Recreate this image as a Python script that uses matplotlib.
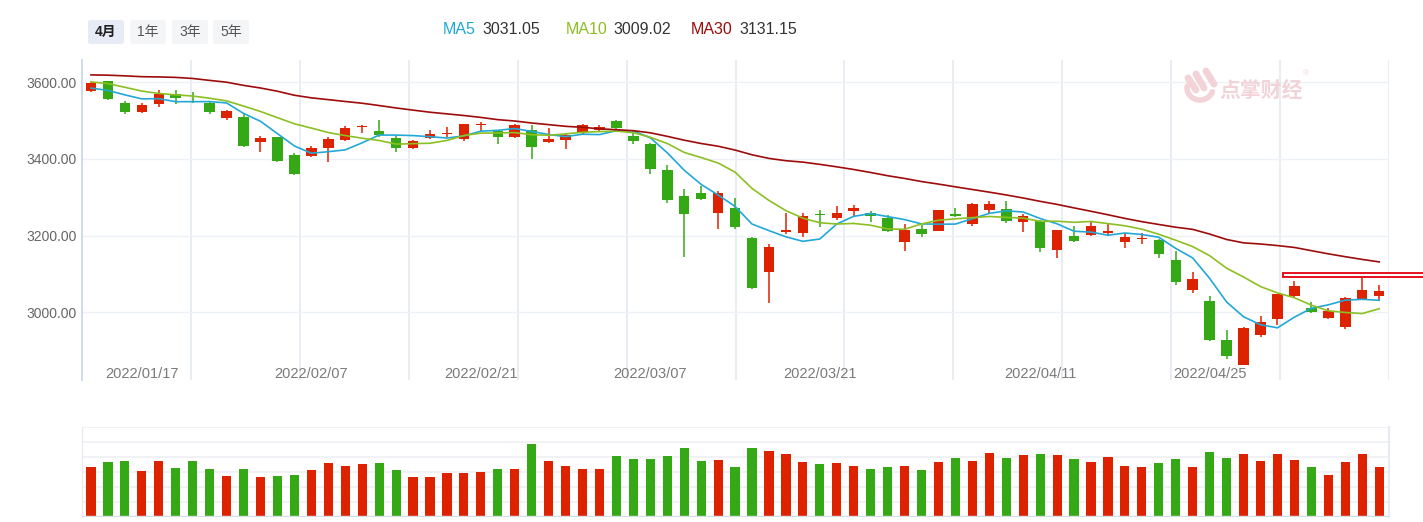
import numpy as np
import pandas as pd
import matplotlib
matplotlib.use('Agg')
import matplotlib.pyplot as plt
from matplotlib.patches import FancyBboxPatch, Rectangle

plt.rcParams['font.family'] = ['Liberation Sans', 'Noto Sans CJK SC', 'DejaVu Sans']

# trading days shown (2022)
dates = ['01/12', '01/13', '01/14', '01/17', '01/18', '01/19', '01/20', '01/21', '01/24', '01/25',
         '01/26', '01/27', '01/28', '02/07', '02/08', '02/09', '02/10', '02/11', '02/14', '02/15',
         '02/16', '02/17', '02/18', '02/21', '02/22', '02/23', '02/24', '02/25', '02/28', '03/01',
         '03/02', '03/03', '03/04', '03/07', '03/08', '03/09', '03/10', '03/11', '03/14', '03/15',
         '03/16', '03/17', '03/18', '03/21', '03/22', '03/23', '03/24', '03/25', '03/28', '03/29',
         '03/30', '03/31', '04/01', '04/06', '04/07', '04/08', '04/11', '04/12', '04/13', '04/14',
         '04/15', '04/18', '04/19', '04/20', '04/21', '04/22', '04/25', '04/26', '04/27', '04/28',
         '04/29', '05/05', '05/06', '05/09', '05/10', '05/11', '05/12']

opens = [3578, 3602, 3545, 3522, 3543, 3568, 3557, 3547, 3506, 3510,
         3443, 3457, 3410, 3408, 3428, 3448, 3482, 3474, 3454, 3428,
         3454, 3466, 3451, 3489, 3474, 3457, 3476, 3443, 3448, 3469,
         3476, 3499, 3460, 3439, 3371, 3304, 3312, 3258, 3271, 3193,
         3106, 3209, 3206, 3256, 3247, 3263, 3258, 3245, 3182, 3217,
         3213, 3257, 3230, 3267, 3269, 3236, 3238, 3161, 3199, 3202,
         3207, 3182, 3190, 3189, 3137, 3057, 3030, 2928, 2863, 2941,
         2983, 3041, 3010, 2984, 2961, 3034, 3041]
highs = [3601, 3603, 3550, 3545, 3579, 3579, 3575, 3549, 3528, 3516,
         3460, 3458, 3416, 3434, 3456, 3485, 3488, 3502, 3460, 3450,
         3476, 3482, 3492, 3495, 3476, 3492, 3489, 3480, 3465, 3491,
         3489, 3502, 3476, 3442, 3383, 3321, 3328, 3317, 3299, 3196,
         3177, 3260, 3260, 3267, 3278, 3280, 3265, 3254, 3230, 3228,
         3267, 3271, 3286, 3289, 3289, 3256, 3241, 3215, 3225, 3239,
         3230, 3203, 3207, 3192, 3160, 3104, 3041, 2954, 2960, 2990,
         3048, 3081, 3027, 3012, 3040, 3099, 3070]
lows = [3575, 3553, 3516, 3519, 3535, 3543, 3545, 3517, 3502, 3430,
        3419, 3393, 3357, 3406, 3393, 3446, 3468, 3458, 3417, 3426,
        3453, 3456, 3447, 3474, 3439, 3455, 3399, 3441, 3426, 3466,
        3470, 3478, 3439, 3360, 3286, 3145, 3292, 3217, 3218, 3061,
        3023, 3203, 3196, 3223, 3241, 3252, 3236, 3208, 3160, 3196,
        3212, 3248, 3226, 3257, 3232, 3208, 3156, 3141, 3183, 3200,
        3200, 3167, 3177, 3142, 3072, 3050, 2925, 2877, 2862, 2935,
        2967, 3039, 2997, 2982, 2955, 3032, 3032]
closes = [3597.43, 3555.26, 3521.26, 3541.67, 3569.91, 3558.18, 3555.06, 3522.57, 3524.11, 3433.06,
          3455.67, 3394.25, 3361.44, 3429.58, 3452.63, 3479.95, 3485.91, 3462.95, 3428.88, 3446.09,
          3465.83, 3468.04, 3490.76, 3490.61, 3457.15, 3489.15, 3429.96, 3451.41, 3462.31, 3488.83,
          3484.19, 3481.11, 3447.65, 3372.86, 3293.53, 3256.39, 3296.09, 3309.75, 3223.53, 3063.97,
          3170.71, 3215.04, 3251.07, 3253.69, 3259.86, 3271.03, 3250.26, 3212.24, 3214.50, 3203.94,
          3266.60, 3252.20, 3282.72, 3283.43, 3236.70, 3251.85, 3167.13, 3213.33, 3186.82, 3225.64,
          3211.24, 3195.52, 3194.03, 3151.05, 3079.81, 3086.92, 2928.51, 2886.43, 2958.28, 2975.48,
          3047.06, 3067.76, 3001.56, 3004.14, 3035.84, 3058.70, 3054.99]
volumes = [333, 364, 371, 304, 371, 324, 371, 318, 274, 318,
           267, 274, 282, 311, 357, 342, 351, 357, 311, 267,
           267, 291, 291, 298, 318, 318, 483, 371, 342, 320,
           320, 408, 386, 386, 408, 461, 371, 379, 333, 461,
           439, 417, 364, 351, 357, 342, 320, 333, 342, 311,
           364, 393, 371, 424, 393, 410, 417, 410, 386, 364,
           401, 342, 333, 357, 386, 333, 430, 393, 417, 371,
           417, 379, 333, 282, 364, 417, 333]
# closes before the window, needed for the moving averages (2021/12/01 - 2022/01/11)
prior_closes = [3576.89, 3573.84, 3607.43, 3589.31, 3595.09, 3637.57, 3673.04, 3666.35, 3681.08, 3661.53,
                3647.63, 3675.02, 3632.36, 3593.60, 3625.13, 3622.62, 3643.34, 3618.05, 3615.97, 3630.11,
                3597.00, 3619.19, 3639.78, 3632.33, 3595.18, 3586.08, 3579.54, 3593.52, 3567.44]
tick_dates = ['01/17', '02/07', '02/21', '03/07', '03/21', '04/11', '04/25']
price_ticks = [3000, 3200, 3400, 3600]
periods = ['4月', '1年', '3年', '5年']

RED = '#dd2200'
GREEN = '#34a815'
MA_COLORS = {'MA5': '#22a8d6', 'MA10': '#8cbf22', 'MA30': '#9e0b0b'}

W, H = 1423, 522
def fx(x):
    return x / W
def fy(y):
    return 1 - y / H

s = pd.Series(prior_closes + closes)
n = len(closes)
mas = {'MA5': s.rolling(5).mean().iloc[-n:].values,
       'MA10': s.rolling(10).mean().iloc[-n:].values,
       'MA30': s.rolling(30).mean().iloc[-n:].values}

x = np.arange(n)
colors = [RED if c >= o else GREEN for o, c in zip(opens, closes)]

fig = plt.figure(figsize=(W / 100, H / 100), dpi=100)
ax = fig.add_axes([fx(82), fy(380), fx(1389) - fx(82), fy(60) - fy(380)])
vax = fig.add_axes([fx(82), fy(517.3), fx(1389) - fx(82), fy(426.7) - fy(517.3)])

xlim = (-0.53, 76.58)
ax.set_xlim(*xlim)
ax.set_ylim(2823, 3658)
for xv in np.linspace(xlim[0], xlim[1], 13)[1:]:
    ax.axvline(xv, color='#e6ebf2', lw=1.3, zorder=0)
for yv in price_ticks:
    ax.axhline(yv, color='#edf0f5', lw=1, zorder=0)

# candles
ax.vlines(x, lows, highs, colors=colors, lw=1.1, zorder=2)
bodies = [max(abs(c - o), 2.2) for o, c in zip(opens, closes)]
bottoms = [min(o, c) for o, c in zip(opens, closes)]
ax.bar(x, bodies, bottom=bottoms, width=0.62, color=colors, zorder=3, lw=0)

for name, vals in mas.items():
    ax.plot(x, vals, color=MA_COLORS[name], lw=1.2, zorder=4)

# highlight marker at the right edge
ax.add_patch(Rectangle((70.3, 3090.5), 8.4, 10.5, facecolor='white', edgecolor='#e3121c',
                       lw=1.4, clip_on=False, zorder=6))

ax.set_yticks(price_ticks)
ax.set_yticklabels([f'{v:.2f}' for v in price_ticks])
ax.set_xticks([dates.index(d) for d in tick_dates])
ax.set_xticklabels(['2022/' + d for d in tick_dates])
ax.tick_params(axis='y', length=0, pad=4, labelsize=10, labelcolor='#666666')
ax.tick_params(axis='x', length=0, pad=-9, labelsize=10.5, labelcolor='#7a7a7a')
for sp in ['top', 'right', 'bottom']:
    ax.spines[sp].set_visible(False)
ax.spines['left'].set_color('#c6d4ec')
ax.spines['left'].set_linewidth(1.2)

# volume panel
vax.set_xlim(*xlim)
vax.set_ylim(0, 600)
for yv in range(100, 601, 100):
    vax.axhline(yv, color='#edf0f5', lw=1.2, zorder=0)
vax.bar(x, volumes, width=0.54, color=colors, zorder=2, lw=0)
vax.axhline(0, color='#d5dde9', lw=2.5, zorder=3)
vax.set_xticks([])
vax.set_yticks([])
for sp in ['top', 'bottom']:
    vax.spines[sp].set_visible(False)
vax.spines['left'].set_color('#e6ebf2')
vax.spines['right'].set_color('#e6ebf2')
vax.spines['right'].set_linewidth(1.5)

# period buttons
btn_left = [88, 130, 172, 213]
for i, (lbl, bx) in enumerate(zip(periods, btn_left)):
    active = i == 0
    fig.add_artist(FancyBboxPatch((fx(bx), fy(44)), fx(36), fy(20) - fy(44),
                                  boxstyle='round,pad=0,rounding_size=0.003',
                                  transform=fig.transFigure, facecolor='#e6ebf5' if active else '#f4f5f7',
                                  edgecolor='none'))
    fig.text(fx(bx + 18), fy(32), lbl, ha='center', va='center', fontsize=10,
             color='#222222' if active else '#555555', fontweight='bold' if active else 'normal')

# legend line
legend_pos = {'MA5': (443, 482), 'MA10': (566, 613), 'MA30': (691, 739)}
for name, (lx, vx) in legend_pos.items():
    fig.text(fx(lx), fy(30), name, ha='left', va='center', fontsize=11.5, color=MA_COLORS[name])
    fig.text(fx(vx), fy(30), f'{mas[name][-1]:.2f}', ha='left', va='center', fontsize=11.5, color='#333333')

# watermark
wm = '#f2d3d8'
for (x0, y0, x1, y1) in [(1188, 78, 1196, 90), (1196, 74, 1204, 88), (1206, 71, 1214, 84)]:
    fig.add_artist(plt.Line2D([fx(x0), fx(x1)], [fy(y0), fy(y1)], color=wm, lw=5,
                              solid_capstyle='round', transform=fig.transFigure))
theta = np.linspace(np.pi * 0.95, np.pi * 1.9, 20)
fig.add_artist(plt.Line2D(fx(1200 + 13 * np.cos(theta)), fy(88 - 12 * np.sin(theta)), color=wm, lw=4,
                          solid_capstyle='round', transform=fig.transFigure))
fig.text(fx(1261), fy(90), '点掌财经', ha='center', va='center', fontsize=15, fontweight='bold',
         color=wm, family=['Noto Sans CJK SC'])
fig.text(fx(1306), fy(74), '®', ha='center', va='center', fontsize=6, color=wm)

fig.savefig('out.png', dpi=100)
